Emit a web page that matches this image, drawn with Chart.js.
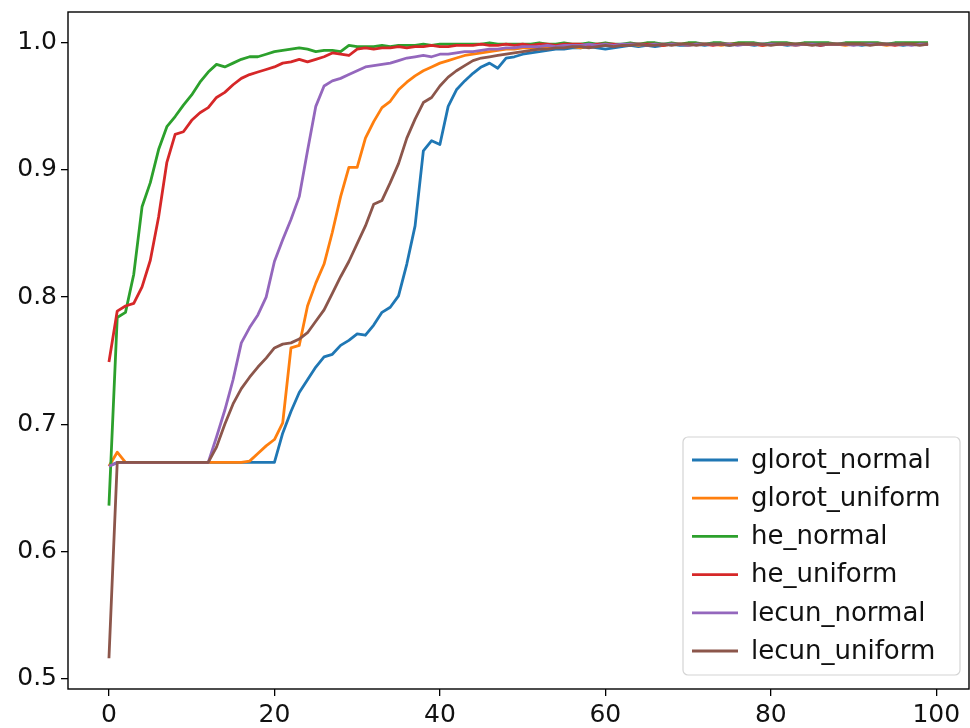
<!DOCTYPE html>
<html>
<head>
<meta charset="utf-8">
<title>Initializer accuracy</title>
<script src="https://cdn.jsdelivr.net/npm/chart.js@4.4.1/dist/chart.umd.min.js"></script>
<style>
  html, body { margin: 0; padding: 0; background: #fff; }
  #chart { display: block; }
</style>
</head>
<body>
<canvas id="chart" width="970" height="728"></canvas>
<script>
// epochs 0..99
const epochs = Array.from({ length: 100 }, (_, i) => i);

const glorotNormal = [
  0.667, 0.670, 0.670, 0.670, 0.670, 0.670, 0.670, 0.670, 0.670, 0.670,
  0.670, 0.670, 0.670, 0.670, 0.670, 0.670, 0.670, 0.670, 0.670, 0.670,
  0.670, 0.693, 0.710, 0.725, 0.735, 0.745, 0.753, 0.755, 0.762, 0.766,
  0.771, 0.770, 0.778, 0.788, 0.792, 0.801, 0.826, 0.856, 0.915, 0.923,
  0.920, 0.950, 0.963, 0.970, 0.976, 0.981, 0.984, 0.980, 0.988, 0.989,
  0.991, 0.992, 0.993, 0.994, 0.995, 0.995, 0.996, 0.996, 0.997, 0.996,
  0.995, 0.996, 0.997, 0.998, 0.997, 0.998, 0.997, 0.998, 0.999, 0.998,
  0.998, 0.999, 0.998, 0.999, 0.999, 0.998, 0.999, 0.999, 0.998, 0.999,
  0.999, 0.999, 0.998, 0.999, 0.999, 0.999, 0.998, 0.999, 0.999, 0.999,
  0.999, 0.998, 0.999, 0.999, 0.999, 0.999, 0.998, 0.999, 0.999, 0.999
];
const glorotUniform = [
  0.667, 0.678, 0.670, 0.670, 0.670, 0.670, 0.670, 0.670, 0.670, 0.670,
  0.670, 0.670, 0.670, 0.670, 0.670, 0.670, 0.670, 0.671, 0.677, 0.683,
  0.688, 0.701, 0.760, 0.762, 0.793, 0.811, 0.826, 0.851, 0.879, 0.902,
  0.902, 0.925, 0.938, 0.949, 0.954, 0.963, 0.969, 0.974, 0.978, 0.981,
  0.984, 0.986, 0.988, 0.990, 0.991, 0.992, 0.993, 0.994, 0.995, 0.995,
  0.996, 0.996, 0.995, 0.997, 0.997, 0.998, 0.997, 0.996, 0.998, 0.998,
  0.999, 0.998, 0.998, 0.999, 0.998, 0.999, 0.999, 0.998, 0.999, 0.999,
  0.998, 0.999, 0.999, 0.999, 0.998, 0.999, 0.999, 0.999, 0.999, 0.998,
  0.999, 0.999, 0.999, 0.998, 0.999, 0.999, 0.999, 0.999, 0.999, 0.998,
  0.999, 0.999, 0.999, 0.999, 0.998, 0.999, 0.999, 0.999, 0.999, 0.999
];
const heNormal = [
  0.636, 0.784, 0.788, 0.818, 0.871, 0.890, 0.916, 0.934, 0.942, 0.951,
  0.959, 0.969, 0.977, 0.983, 0.981, 0.984, 0.987, 0.989, 0.989, 0.991,
  0.993, 0.994, 0.995, 0.996, 0.995, 0.993, 0.994, 0.994, 0.993, 0.998,
  0.997, 0.997, 0.997, 0.998, 0.997, 0.998, 0.998, 0.998, 0.999, 0.998,
  0.999, 0.999, 0.999, 0.999, 0.999, 0.999, 1.000, 0.999, 0.999, 0.999,
  0.999, 0.999, 1.000, 0.999, 0.999, 1.000, 0.999, 0.999, 1.000, 0.999,
  1.000, 0.999, 0.999, 1.000, 0.999, 1.000, 1.000, 0.999, 1.000, 0.999,
  1.000, 1.000, 0.999, 1.000, 1.000, 0.999, 1.000, 1.000, 1.000, 0.999,
  1.000, 1.000, 1.000, 0.999, 1.000, 1.000, 1.000, 1.000, 0.999, 1.000,
  1.000, 1.000, 1.000, 1.000, 0.999, 1.000, 1.000, 1.000, 1.000, 1.000
];
const heUniform = [
  0.749, 0.789, 0.793, 0.795, 0.808, 0.829, 0.863, 0.906, 0.928, 0.930,
  0.939, 0.945, 0.949, 0.957, 0.961, 0.967, 0.972, 0.975, 0.977, 0.979,
  0.981, 0.984, 0.985, 0.987, 0.985, 0.987, 0.989, 0.992, 0.991, 0.990,
  0.995, 0.996, 0.995, 0.996, 0.996, 0.997, 0.996, 0.997, 0.997, 0.998,
  0.997, 0.997, 0.998, 0.998, 0.998, 0.999, 0.998, 0.998, 0.999, 0.998,
  0.999, 0.998, 0.999, 0.999, 0.998, 0.999, 0.999, 0.999, 0.998, 0.999,
  0.999, 0.999, 0.998, 0.999, 0.999, 0.999, 0.999, 0.998, 0.999, 0.999,
  0.999, 0.999, 0.999, 0.998, 0.999, 0.999, 0.999, 0.999, 0.999, 0.998,
  0.999, 0.999, 0.999, 0.999, 0.999, 0.999, 0.998, 0.999, 0.999, 0.999,
  0.999, 0.999, 0.999, 0.999, 0.999, 0.998, 0.999, 0.999, 0.999, 0.999
];
const lecunNormal = [
  0.667, 0.670, 0.670, 0.670, 0.670, 0.670, 0.670, 0.670, 0.670, 0.670,
  0.670, 0.670, 0.670, 0.690, 0.711, 0.735, 0.764, 0.776, 0.786, 0.800,
  0.828, 0.845, 0.861, 0.879, 0.915, 0.950, 0.966, 0.970, 0.972, 0.975,
  0.978, 0.981, 0.982, 0.983, 0.984, 0.986, 0.988, 0.989, 0.990, 0.989,
  0.991, 0.991, 0.992, 0.993, 0.993, 0.994, 0.995, 0.995, 0.996, 0.996,
  0.997, 0.997, 0.997, 0.998, 0.997, 0.998, 0.998, 0.998, 0.999, 0.998,
  0.999, 0.998, 0.999, 0.999, 0.999, 0.998, 0.999, 0.999, 0.999, 0.999,
  0.998, 0.999, 0.999, 0.999, 0.999, 0.999, 0.998, 0.999, 0.999, 0.999,
  0.999, 0.999, 0.999, 0.998, 0.999, 0.999, 0.999, 0.999, 0.999, 0.999,
  0.998, 0.999, 0.999, 0.999, 0.999, 0.999, 0.999, 0.998, 0.999, 0.999
];
const lecunUniform = [
  0.516, 0.670, 0.670, 0.670, 0.670, 0.670, 0.670, 0.670, 0.670, 0.670,
  0.670, 0.670, 0.670, 0.682, 0.700, 0.716, 0.728, 0.737, 0.745, 0.752,
  0.760, 0.763, 0.764, 0.767, 0.772, 0.781, 0.790, 0.803, 0.816, 0.828,
  0.842, 0.856, 0.873, 0.876, 0.890, 0.905, 0.925, 0.940, 0.953, 0.957,
  0.966, 0.973, 0.978, 0.982, 0.986, 0.988, 0.989, 0.990, 0.991, 0.992,
  0.993, 0.994, 0.995, 0.995, 0.996, 0.996, 0.997, 0.997, 0.996, 0.997,
  0.998, 0.997, 0.998, 0.998, 0.999, 0.998, 0.998, 0.999, 0.998, 0.999,
  0.999, 0.998, 0.999, 0.999, 0.999, 0.998, 0.999, 0.999, 0.999, 0.999,
  0.998, 0.999, 0.999, 0.999, 0.999, 0.998, 0.999, 0.999, 0.999, 0.999,
  0.999, 0.999, 0.998, 0.999, 0.999, 0.999, 0.999, 0.999, 0.998, 0.999
];

const seriesNames = ["glorot_normal", "glorot_uniform", "he_normal", "he_uniform", "lecun_normal", "lecun_uniform"];
const seriesValues = [glorotNormal, glorotUniform, heNormal, heUniform, lecunNormal, lecunUniform];
const seriesColors = ["#1f77b4", "#ff7f0e", "#2ca02c", "#d62728", "#9467bd", "#8c564b"];

const xTicks = [0, 20, 40, 60, 80, 100];
const yTicks = [0.5, 0.6, 0.7, 0.8, 0.9, 1.0];

const FONT = "'DejaVu Sans', 'Liberation Sans', sans-serif";

// top/right spines like matplotlib
const frame = {
  id: "frame",
  afterDatasetsDraw(chart) {
    const { ctx, chartArea: a } = chart;
    ctx.save();
    ctx.strokeStyle = "#000";
    ctx.lineWidth = 1.4;
    ctx.strokeRect(a.left, a.top, a.right - a.left, a.bottom - a.top);
    ctx.restore();
  },
};

// legend box in lower right corner of the plot
const legendBox = {
  id: "legendBox",
  afterDraw(chart) {
    const { ctx, chartArea: a } = chart;
    const w = 277, h = 238;
    const x = a.right - w - 9;
    const y = a.bottom - h - 14;
    ctx.save();
    ctx.beginPath();
    ctx.roundRect(x, y, w, h, 5);
    ctx.fillStyle = "rgba(255,255,255,0.8)";
    ctx.fill();
    ctx.strokeStyle = "#d4d4d4";
    ctx.lineWidth = 1.2;
    ctx.stroke();
    ctx.font = "26px " + FONT;
    ctx.textBaseline = "middle";
    ctx.fillStyle = "#111";
    chart.data.datasets.forEach((ds, i) => {
      const ry = y + 23 + i * 38.2;
      ctx.beginPath();
      ctx.moveTo(x + 9, ry);
      ctx.lineTo(x + 55, ry);
      ctx.strokeStyle = ds.borderColor;
      ctx.lineWidth = 2.8;
      ctx.stroke();
      ctx.fillText(ds.label, x + 68, ry + 1);
    });
    ctx.restore();
  },
};

const tickGrid = {
  display: true,
  drawOnChartArea: false,
  drawTicks: true,
  tickLength: 7,
  color: "#000",
  lineWidth: 1.3,
};

new Chart(document.getElementById("chart"), {
  type: "line",
  data: {
    labels: epochs,
    datasets: seriesNames.map((name, i) => ({
      label: name,
      data: seriesValues[i],
      borderColor: seriesColors[i],
      backgroundColor: seriesColors[i],
      borderWidth: 2.8,
      borderJoinStyle: "round",
      pointRadius: 0,
      tension: 0,
      fill: false,
      order: seriesNames.length - i,
    })),
  },
  options: {
    responsive: false,
    animation: false,
    devicePixelRatio: 1,
    layout: { padding: { top: 12, right: 1, left: 0, bottom: 0 } },
    plugins: {
      legend: { display: false },
      tooltip: { enabled: false },
    },
    scales: {
      x: {
        type: "linear",
        min: -4.95,
        max: 103.95,
        afterBuildTicks: (s) => { s.ticks = xTicks.map((v) => ({ value: v })); },
        afterFit: (s) => { s.height = 39; s.paddingLeft = 0; s.paddingRight = 0; },
        ticks: {
          color: "#111",
          font: { family: FONT, size: 25 },
          padding: 4,
          maxRotation: 0,
          autoSkip: false,
          callback: (v) => String(v),
        },
        grid: tickGrid,
        border: { display: false },
      },
      y: {
        min: 0.4918,
        max: 1.0242,
        afterBuildTicks: (s) => { s.ticks = yTicks.map((v) => ({ value: v })); },
        afterFit: (s) => { s.width = 68; s.paddingTop = 0; s.paddingBottom = 0; },
        ticks: {
          color: "#111",
          font: { family: FONT, size: 25 },
          padding: 4,
          autoSkip: false,
          callback: (v) => v.toFixed(1),
        },
        grid: tickGrid,
        border: { display: false },
      },
    },
  },
  plugins: [frame, legendBox],
});
</script>
</body>
</html>
